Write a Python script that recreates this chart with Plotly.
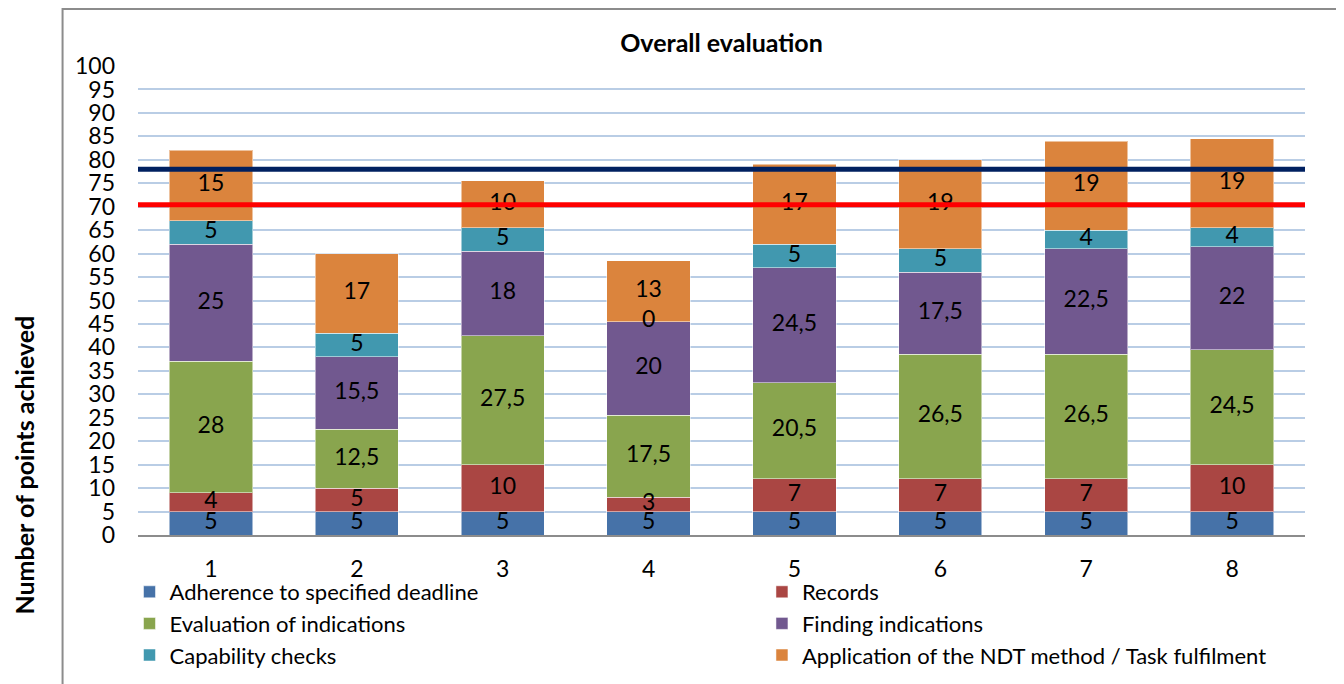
import plotly.graph_objects as go

categories = ["1", "2", "3", "4", "5", "6", "7", "8"]
series_names = [
    "Adherence to specified deadline",
    "Records",
    "Evaluation of indications",
    "Finding indications",
    "Capability checks",
    "Application of the NDT method / Task fulfilment",
]
adherence = [5, 5, 5, 5, 5, 5, 5, 5]
records = [4, 5, 10, 3, 7, 7, 7, 10]
evaluation = [28, 12.5, 27.5, 17.5, 20.5, 26.5, 26.5, 24.5]
finding = [25, 15.5, 18, 20, 24.5, 17.5, 22.5, 22]
capability = [5, 5, 5, 0, 5, 5, 4, 4]
application = [15, 17, 10, 13, 17, 19, 19, 19]
colors = ["#4672A8", "#AA4643", "#89A54E", "#71588F", "#4198AF", "#DB843D"]
legend_column = ["legend", "legend2", "legend", "legend2", "legend", "legend2"]
threshold_upper = 78
threshold_lower = 70.4

FONT = "Lato"
all_series = [adherence, records, evaluation, finding, capability, application]

W, H = 1336, 676
PL, PR, PT, PB = 129.5, 1297.5, 58, 527  # plot area in figure pixels
PW, PH = PR - PL, PB - PT


def px(x):
    return (x - PL) / PW


def py(y):
    return (PB - y) / PH


def fmt(v):
    if float(v).is_integer():
        return str(int(v))
    return str(v).replace(".", ",")


fig = go.Figure()
for name, vals, col, lg in zip(series_names, all_series, colors, legend_column):
    fig.add_trace(go.Bar(
        x=categories, y=vals, name=name, legend=lg,
        marker=dict(color=col, line=dict(color="rgba(255,255,255,0.5)", width=1)),
    ))

# data labels at the middle of each segment
base = [0] * len(categories)
for vals in all_series:
    mids = [b + v / 2 for b, v in zip(base, vals)]
    fig.add_trace(go.Scatter(
        x=categories, y=mids, mode="text", text=[fmt(v) for v in vals],
        textfont=dict(family=FONT, size=23, color="black"),
        showlegend=False, hoverinfo="skip",
    ))
    base = [b + v for b, v in zip(base, vals)]

fig.add_hline(y=threshold_upper, line=dict(color="#002060", width=5), layer="above")
fig.add_hline(y=threshold_lower, line=dict(color="#FF0000", width=5), layer="above")

# chart frame
fig.add_shape(type="rect", xref="paper", yref="paper",
              x0=px(54), x1=px(1330), y0=py(720), y1=py(1),
              line=dict(color="#8C8C8C", width=2), fillcolor="rgba(0,0,0,0)", layer="below")

legend_common = dict(orientation="v", xanchor="left", y=py(563), yanchor="top",
                     traceorder="normal", font=dict(family=FONT, size=22),
                     bgcolor="rgba(0,0,0,0)", tracegroupgap=0)

fig.update_layout(
    barmode="stack",
    bargap=0.43,
    width=W, height=H,
    margin=dict(l=PL, r=W - PR, t=PT, b=H - PB, autoexpand=False),
    plot_bgcolor="white", paper_bgcolor="white",
    font=dict(family=FONT, size=20, color="black"),
    title=dict(text="<b>Overall evaluation</b>", x=0.5, xref="paper", xanchor="center",
               y=1 - 35 / H, yanchor="middle", font=dict(family=FONT, size=25)),
    showlegend=True,
    legend=dict(x=px(121), **legend_common),
    legend2=dict(x=px(754), **legend_common),
    xaxis=dict(showgrid=False, showline=True, linecolor="#8C8C8C", linewidth=2,
               ticks="", tickfont=dict(family=FONT, size=23), ticklabelstandoff=12),
    yaxis=dict(range=[0, 100], tickvals=list(range(0, 101, 5)), showgrid=True,
               gridcolor="#B9CDE5", gridwidth=2, zeroline=False, showline=False,
               tickfont=dict(family=FONT, size=23), ticklabelstandoff=22),
    annotations=[dict(text="<b>Number of points achieved</b>", textangle=-90,
                      xref="paper", yref="paper", x=px(15), y=py(457),
                      xanchor="center", yanchor="middle", showarrow=False,
                      font=dict(family=FONT, size=25))],
)

fig.write_html("out.html")
